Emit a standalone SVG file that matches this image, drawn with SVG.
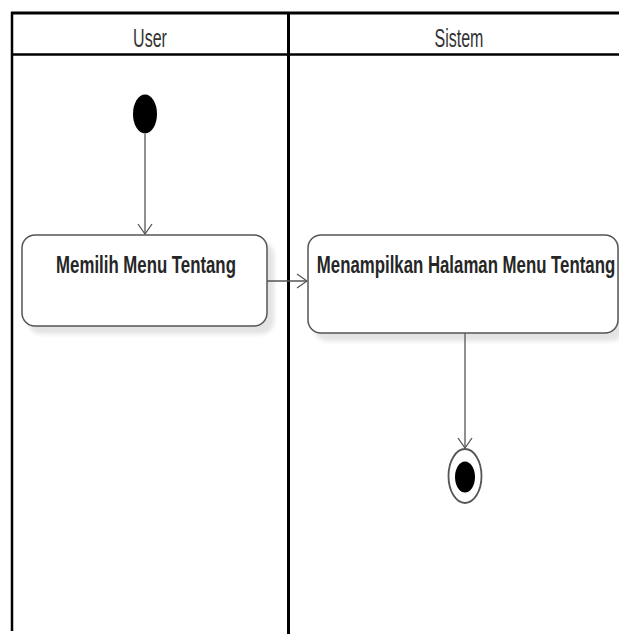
<svg xmlns="http://www.w3.org/2000/svg" width="619" height="634" viewBox="0 0 619 634">
  <style>
    .lane { stroke: #000; fill: none; }
    .hdr { font-family: "Liberation Sans", Arial, sans-serif; font-size: 16px; fill: #333; text-anchor: middle; }
    .act { fill: #fff; stroke: #555; stroke-width: 1.5; }
    .shadow { fill: #e3e3e3; filter: url(#soft); }
    .lbl { font-family: "Liberation Sans", Arial, sans-serif; font-size: 16.8px; font-weight: bold; fill: #262626; text-anchor: middle; }
    .flow { stroke: #555; stroke-width: 1.3; fill: none; marker-end: url(#open); }
  </style>
  <defs>
    <filter id="soft" x="-10%" y="-10%" width="120%" height="130%">
      <feGaussianBlur stdDeviation="2"/>
    </filter>
    <marker id="open" markerWidth="12" markerHeight="20" refX="11" refY="10" orient="auto" markerUnits="userSpaceOnUse">
      <path d="M1,3 L11,10 L1,17" fill="none" stroke="#555" stroke-width="1.3"/>
    </marker>
  </defs>

  <rect width="619" height="634" fill="#fff"/>

  <!-- swimlanes -->
  <g id="lanes">
    <line class="lane" x1="11" y1="13" x2="619" y2="13" stroke-width="3"/>
    <line class="lane" x1="11" y1="54.5" x2="619" y2="54.5" stroke-width="2.5"/>
    <line class="lane" x1="12" y1="12" x2="12" y2="631" stroke-width="2.5"/>
    <line class="lane" x1="288.5" y1="12" x2="288.5" y2="634" stroke-width="3"/>
    <text class="hdr" transform="translate(150,47) scale(1,1.65)">User</text>
    <text class="hdr" transform="translate(459,47) scale(1,1.65)">Sistem</text>
  </g>

  <!-- initial state -->
  <g id="start">
    <ellipse cx="145" cy="114" rx="12" ry="19.5" fill="#000"/>
  </g>

  <!-- action: Memilih Menu Tentang -->
  <g id="memilih-menu-tentang">
    <rect class="shadow" x="28" y="242" width="246" height="92" rx="13"/>
    <rect class="act" x="22" y="235" width="245" height="91" rx="13"/>
    <text class="lbl" transform="translate(146,273) scale(1,1.42)">Memilih Menu Tentang</text>
  </g>

  <!-- action: Menampilkan Halaman Menu Tentang -->
  <g id="menampilkan-halaman">
    <rect class="shadow" x="314" y="242" width="310" height="99" rx="13"/>
    <rect class="act" x="308" y="235" width="310" height="98" rx="13"/>
    <text class="lbl" transform="translate(466,273) scale(1,1.42)">Menampilkan Halaman Menu Tentang</text>
  </g>

  <!-- final state -->
  <g id="end">
    <ellipse cx="465" cy="476" rx="16.5" ry="27" fill="#fff" stroke="#555" stroke-width="1.8"/>
    <ellipse cx="465" cy="477" rx="10" ry="15.5" fill="#000"/>
  </g>

  <!-- control flows -->
  <g id="connectors">
    <line class="flow" x1="145" y1="134" x2="145" y2="234"/>
    <line class="flow" x1="267" y1="281" x2="307" y2="281"/>
    <line class="flow" x1="465" y1="333" x2="465" y2="448"/>
  </g>
</svg>
